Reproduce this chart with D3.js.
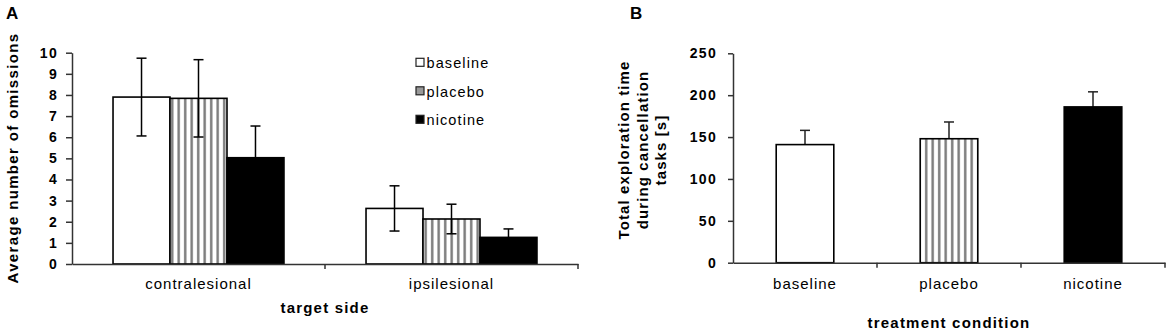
<!DOCTYPE html>
<html>
<head>
<meta charset="utf-8">
<script src="https://cdn.jsdelivr.net/npm/d3@7"></script>
<style>
  body { margin: 0; background: #fff; }
  text { font-family: "Liberation Sans", Arial, sans-serif; fill: #000; }
</style>
</head>
<body>
<div id="chart"></div>
<script>
// ---- data ----
const targetSides = ["contralesional", "ipsilesional"];
const conditions = ["baseline", "placebo", "nicotine"];

// panel A: average omissions per target side (mean, SE)
const baselineOmissions = [7.9, 2.63];
const placeboOmissions = [7.84, 2.13];
const nicotineOmissions = [5.03, 1.26];
const baselineOmissionsErr = [1.84, 1.07];
const placeboOmissionsErr = [1.83, 0.70];
const nicotineOmissionsErr = [1.5, 0.40];
const omissionTicks = [0, 1, 2, 3, 4, 5, 6, 7, 8, 9, 10];

// panel B: total exploration time (mean, SE)
const explorationTime = [141, 148, 186];
const explorationTimeErr = [17, 20, 18];
const explorationTicks = [0, 50, 100, 150, 200, 250];

const width = 1171, height = 334;

const svg = d3.select("#chart")
    .append("svg")
    .attr("width", width)
    .attr("height", height);

// stripe pattern for placebo
const defs = svg.append("defs");
const stripes = defs.append("pattern")
    .attr("id", "stripes")
    .attr("patternUnits", "userSpaceOnUse")
    .attr("width", 6.5)
    .attr("height", 10);
stripes.append("rect").attr("width", 6.5).attr("height", 10).attr("fill", "#fff");
stripes.append("rect").attr("x", 2).attr("width", 2.4).attr("height", 10).attr("fill", "#7a7a7a");

const fills = {baseline: "#fff", placebo: "url(#stripes)", nicotine: "#000"};

const axisColor = "#333";

function styleYAxis(g) {
    g.select(".domain").attr("stroke", axisColor).attr("stroke-width", 1.5);
    g.selectAll(".tick line").attr("stroke", axisColor).attr("stroke-width", 1.5);
    g.selectAll(".tick text")
        .style("font-family", "'Liberation Sans', Arial, sans-serif")
        .style("font-size", "14px")
        .style("font-weight", "bold")
        .style("letter-spacing", "1.3px")
        .attr("fill", "#000");
}

function styleXAxis(g) {
    g.select(".domain").attr("stroke", axisColor).attr("stroke-width", 1.5);
    g.selectAll(".tick line").remove();
    g.selectAll(".tick text")
        .style("font-family", "'Liberation Sans', Arial, sans-serif")
        .style("font-size", "15px")
        .style("letter-spacing", "1px")
        .attr("fill", "#000");
}

// ================= panel A =================
const aLeft = 72, aRight = 578, aTop = 52.7, aBottom = 264;

const xSide = d3.scaleBand()
    .domain(targetSides)
    .range([aLeft, aRight])
    .padding(0);

const xCond = d3.scaleBand()
    .domain(conditions)
    .range([0, xSide.bandwidth()])
    .paddingInner(0)
    .paddingOuter(0.72);

const yOmit = d3.scaleLinear()
    .domain([0, 10])
    .range([aBottom, aTop]);

const omissionRows = [];
targetSides.forEach((side, i) => {
    omissionRows.push({side: side, cond: "baseline", v: baselineOmissions[i], e: baselineOmissionsErr[i]});
    omissionRows.push({side: side, cond: "placebo", v: placeboOmissions[i], e: placeboOmissionsErr[i]});
    omissionRows.push({side: side, cond: "nicotine", v: nicotineOmissions[i], e: nicotineOmissionsErr[i]});
});

const panelA = svg.append("g");

panelA.selectAll("rect.bar")
    .data(omissionRows)
    .enter()
    .append("rect")
    .attr("class", "bar")
    .attr("x", d => xSide(d.side) + xCond(d.cond))
    .attr("y", d => yOmit(d.v))
    .attr("width", xCond.bandwidth())
    .attr("height", d => aBottom - yOmit(d.v))
    .attr("fill", d => fills[d.cond])
    .attr("stroke", "#000")
    .attr("stroke-width", 1.6);

// error bars (both directions)
const errA = panelA.selectAll("g.err")
    .data(omissionRows)
    .enter()
    .append("g")
    .attr("class", "err")
    .attr("transform", d => "translate(" + (xSide(d.side) + xCond(d.cond) + xCond.bandwidth() / 2) + ",0)");
errA.append("line")
    .attr("y1", d => yOmit(d.v + d.e))
    .attr("y2", d => yOmit(d.v - d.e))
    .attr("stroke", "#000").attr("stroke-width", 1.5);
errA.append("line")
    .attr("x1", -5).attr("x2", 5)
    .attr("y1", d => yOmit(d.v + d.e)).attr("y2", d => yOmit(d.v + d.e))
    .attr("stroke", "#000").attr("stroke-width", 1.5);
errA.append("line")
    .attr("x1", -5).attr("x2", 5)
    .attr("y1", d => yOmit(d.v - d.e)).attr("y2", d => yOmit(d.v - d.e))
    .attr("stroke", "#000").attr("stroke-width", 1.5);

// axes
panelA.append("g")
    .attr("transform", "translate(" + aLeft + ",0)")
    .call(d3.axisLeft(yOmit).tickValues(omissionTicks).tickFormat(d3.format("d"))
        .tickSize(6).tickSizeOuter(0).tickPadding(8))
    .call(styleYAxis);

panelA.append("g")
    .attr("transform", "translate(0," + aBottom + ")")
    .call(d3.axisBottom(xSide).tickSize(0).tickSizeOuter(0).tickPadding(14))
    .call(styleXAxis);

// tick marks at category boundaries
panelA.selectAll("line.bound")
    .data(targetSides)
    .enter()
    .append("line")
    .attr("x1", d => xSide(d) + xSide.bandwidth())
    .attr("x2", d => xSide(d) + xSide.bandwidth())
    .attr("y1", aBottom).attr("y2", aBottom + 5)
    .attr("stroke", axisColor).attr("stroke-width", 1.5);

// legend
const legend = panelA.selectAll("g.legend")
    .data(conditions)
    .enter()
    .append("g")
    .attr("class", "legend")
    .attr("transform", (d, i) => "translate(416," + (58.3 + i * 28.5) + ")");
legend.append("rect")
    .attr("width", 8).attr("height", 8)
    .attr("fill", d => d === "placebo" ? "#999" : fills[d])
    .attr("stroke", "#222").attr("stroke-width", 1.2);
legend.append("text")
    .attr("x", 10.5).attr("y", 10)
    .style("font-size", "14.5px")
    .style("letter-spacing", "1.1px")
    .text(d => d);

// titles
panelA.append("text")
    .attr("transform", "translate(18,158) rotate(-90)")
    .attr("text-anchor", "middle")
    .style("font-size", "15px")
    .style("font-weight", "bold")
    .style("letter-spacing", "1.35px")
    .text("Average number of omissions");

panelA.append("text")
    .attr("x", (aLeft + aRight) / 2).attr("y", 313)
    .attr("text-anchor", "middle")
    .style("font-size", "15px")
    .style("font-weight", "bold")
    .style("letter-spacing", "1.2px")
    .text("target side");

panelA.append("text")
    .attr("x", 6).attr("y", 18.5)
    .style("font-size", "17px")
    .style("font-weight", "bold")
    .text("A");

// ================= panel B =================
const bLeft = 733, bRight = 1165, bTop = 53.3, bBottom = 262.7;

const xTreat = d3.scaleBand()
    .domain(conditions)
    .range([bLeft, bRight])
    .paddingInner(0.6)
    .paddingOuter(0.3);

const yTime = d3.scaleLinear()
    .domain([0, 250])
    .range([bBottom, bTop]);

const timeRows = conditions.map((c, i) => ({cond: c, v: explorationTime[i], e: explorationTimeErr[i]}));

const panelB = svg.append("g");

// error bars upward only, drawn first so the bar covers the stub
const errB = panelB.selectAll("g.err")
    .data(timeRows)
    .enter()
    .append("g")
    .attr("class", "err")
    .attr("transform", d => "translate(" + (xTreat(d.cond) + xTreat.bandwidth() / 2) + ",0)");
errB.append("line")
    .attr("y1", d => yTime(d.v + d.e))
    .attr("y2", d => yTime(d.v))
    .attr("stroke", "#222").attr("stroke-width", 1.5);
errB.append("line")
    .attr("x1", -5).attr("x2", 5)
    .attr("y1", d => yTime(d.v + d.e)).attr("y2", d => yTime(d.v + d.e))
    .attr("stroke", "#222").attr("stroke-width", 1.5);

panelB.selectAll("rect.bar")
    .data(timeRows)
    .enter()
    .append("rect")
    .attr("class", "bar")
    .attr("x", d => xTreat(d.cond))
    .attr("y", d => yTime(d.v))
    .attr("width", xTreat.bandwidth())
    .attr("height", d => bBottom - yTime(d.v))
    .attr("fill", d => fills[d.cond])
    .attr("stroke", "#000")
    .attr("stroke-width", 1.6);

panelB.append("g")
    .attr("transform", "translate(" + bLeft + ",0)")
    .call(d3.axisLeft(yTime).tickValues(explorationTicks)
        .tickSize(5).tickSizeOuter(0).tickPadding(11))
    .call(styleYAxis);

panelB.append("g")
    .attr("transform", "translate(0," + bBottom + ")")
    .call(d3.axisBottom(xTreat).tickSize(0).tickSizeOuter(0).tickPadding(16))
    .call(styleXAxis);

panelB.selectAll("line.bound")
    .data(conditions)
    .enter()
    .append("line")
    .attr("x1", (d, i) => bLeft + xTreat.step() * (i + 1))
    .attr("x2", (d, i) => bLeft + xTreat.step() * (i + 1))
    .attr("y1", bBottom).attr("y2", bBottom + 5)
    .attr("stroke", axisColor).attr("stroke-width", 1.5);

const bTitle = panelB.append("text")
    .attr("transform", "translate(629,150) rotate(-90)")
    .attr("text-anchor", "middle")
    .style("font-size", "15px")
    .style("font-weight", "bold")
    .style("letter-spacing", "1.1px");
["Total exploration time", "during cancellation", "tasks [s]"].forEach((line, i) => {
    bTitle.append("tspan")
        .attr("x", 0)
        .attr("dy", i === 0 ? 0 : 18.5)
        .text(line);
});

panelB.append("text")
    .attr("x", (bLeft + bRight) / 2).attr("y", 328)
    .attr("text-anchor", "middle")
    .style("font-size", "15px")
    .style("font-weight", "bold")
    .style("letter-spacing", "1.2px")
    .text("treatment condition");

panelB.append("text")
    .attr("x", 630).attr("y", 18.5)
    .style("font-size", "17px")
    .style("font-weight", "bold")
    .text("B");
</script>
</body>
</html>
